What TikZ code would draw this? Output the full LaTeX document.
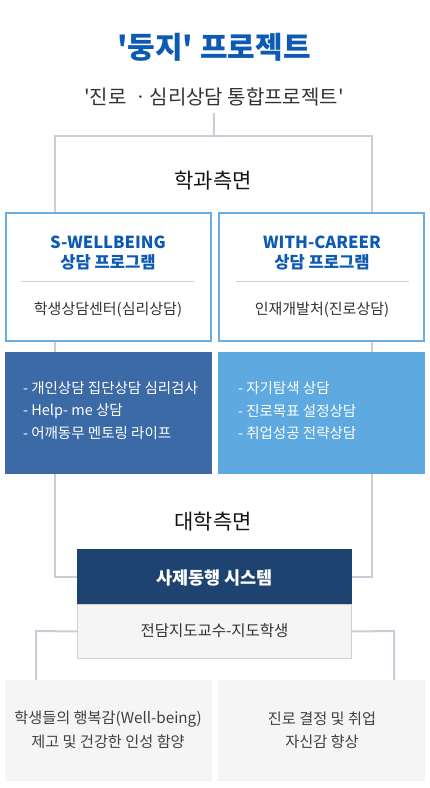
\documentclass[tikz,border=0pt]{standalone}
\usepackage{fontspec}
\setmainfont{Noto Sans CJK KR}
\usetikzlibrary{backgrounds}
\definecolor{ttlblue}{RGB}{12,90,180}
\definecolor{brdblue}{RGB}{106,174,224}
\definecolor{leftfill}{RGB}{59,106,166}
\definecolor{rightfill}{RGB}{94,169,224}
\definecolor{navy}{RGB}{30,67,112}
\definecolor{conngray}{RGB}{200,206,216}
\definecolor{lightfill}{RGB}{245,245,245}
\definecolor{sepgray}{RGB}{208,208,208}
\definecolor{txtdark}{RGB}{51,51,51}
\newcommand{\sq}{\textquotesingle}
\begin{document}
\begin{tikzpicture}[x=1pt,y=-1pt,
  conn/.style={draw=conngray,line width=2pt},
  plainbox/.style={rectangle,inner sep=0pt,outer sep=0pt},
  progbox/.style={plainbox,draw=brdblue,line width=2pt,fill=white,minimum width=205pt,minimum height=128pt},
  listbox/.style={plainbox,minimum width=207pt,minimum height=122pt},
  resbox/.style={plainbox,fill=lightfill,minimum width=207pt,minimum height=101pt},
  heading/.style={font=\fontsize{21}{24}\selectfont,text=black!92},
  progtitle/.style={font=\fontsize{16.6}{19}\selectfont\bfseries,text=ttlblue},
  midtext/.style={font=\fontsize{15}{18}\selectfont,text=txtdark},
  listtext/.style={anchor=west,font=\fontsize{14.5}{17}\selectfont,text=white},
  restext/.style={font=\fontsize{15.2}{18}\selectfont,text=black!75},
]
\useasboundingbox (0,0) rectangle (430,788);

% titles
\node[font=\fontsize{30}{35}\selectfont\bfseries,text=ttlblue] (title) at (214,47) {\sq 둥지\sq\ 프로젝트};
\node[font=\fontsize{20}{23}\selectfont,text=txtdark] (sub) at (214,97) {\sq 진로 ㆍ심리상담 통합프로젝트\sq};
\coordinate (stem) at (214,113);

\node[heading] (dept) at (213,181) {학과측면};
\node[heading] (univ) at (213,522) {대학측면};

% program boxes
\node[progbox] (pb1) at (108.5,277) {};
\node[progbox] (pb2) at (321.5,277) {};
\node[progtitle] (pt1a) at (108,242) {S-WELLBEING};
\node[progtitle] (pt1b) at (108,262) {상담 프로그램};
\node[progtitle] (pt2a) at (322,242) {WITH-CAREER};
\node[progtitle] (pt2b) at (322,262) {상담 프로그램};
\draw[sepgray,line width=0.8pt] (21,281) -- (194,281);
\draw[sepgray,line width=0.8pt] (236,281) -- (409,281);
\node[midtext] (pc1) at (108,310) {학생상담센터(심리상담)};
\node[midtext] (pc2) at (322,310) {인재개발처(진로상담)};

% list boxes
\node[listbox,fill=leftfill] (lb1) at (108.5,413) {};
\node[listbox,fill=rightfill] (lb2) at (321.5,413) {};
\node[listtext] (l1a) at (19.5,388) {- 개인상담 집단상담 심리검사};
\node[listtext] (l1b) at (19.5,411) {- Help- me 상담};
\node[listtext] (l1c) at (19.5,433) {- 어깨동무 멘토링 라이프};
\node[listtext] (l2a) at (234.5,388) {- 자기탐색 상담};
\node[listtext] (l2b) at (234.5,411) {- 진로목표 설정상담};
\node[listtext] (l2c) at (234.5,433) {- 취업성공 전략상담};

% system boxes
\node[plainbox,fill=lightfill,draw=sepgray,line width=1pt,minimum width=274pt,minimum height=54.5pt] (mentor) at (214.5,631.5) {};
\node[plainbox,fill=navy,minimum width=275pt,minimum height=55pt] (sys) at (214.5,576.5) {};
\node[font=\fontsize{17.5}{20}\selectfont\bfseries,text=white] (systxt) at (214.5,578) {사제동행 시스템};
\node[font=\fontsize{15.5}{18}\selectfont,text=txtdark] (mentortxt) at (214.5,631) {전담지도교수-지도학생};

% result boxes
\node[resbox] (r1) at (108.5,730.5) {};
\node[resbox] (r2) at (321.5,730.5) {};
\node[restext] (r1a) at (108,719) {학생들의 행복감(Well-being)};
\node[restext] (r1b) at (108,742) {제고 및 건강한 인성 함양};
\node[restext] (r2a) at (322,719) {진로 결정 및 취업};
\node[restext] (r2b) at (322,742) {자신감 향상};

% connectors
\begin{scope}[on background layer]
\draw[conn] (stem) -- (214,136);
\draw[conn] (sys.west |- 0,577) -- (55,577) -- (55,136) -- (372,136) -- (372,577) -- (sys.east |- 0,577);
\draw[conn] (mentor.west) -- (36,631) -- (r1.north -| 36,0);
\draw[conn] (mentor.east) -- (394,631) -- (r2.north -| 394,0);
\end{scope}
\end{tikzpicture}
\end{document}
